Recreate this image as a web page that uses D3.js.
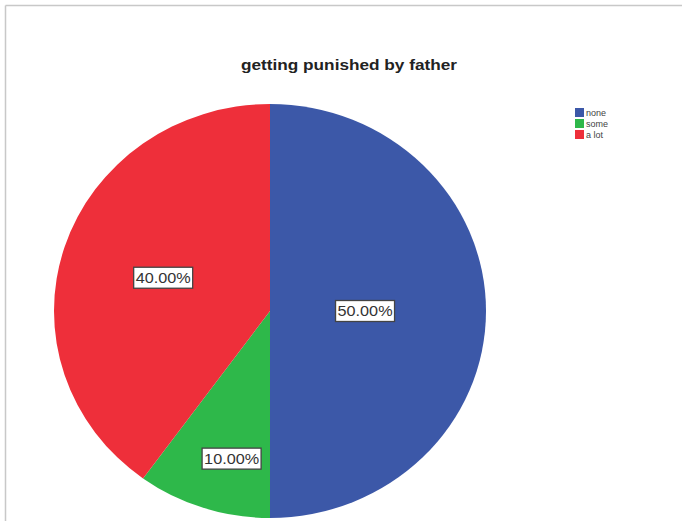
<!DOCTYPE html>
<html>
<head>
<meta charset="utf-8">
<script src="https://cdn.jsdelivr.net/npm/d3@7"></script>
<style>
  html, body { margin: 0; padding: 0; background: #fff; }
  svg { display: block; }
</style>
</head>
<body>
<svg id="chart" width="682" height="521"></svg>
<script>
// Responses: how often the respondent got punished by father
const categories = ["none", "some", "a lot"];
const percents = [50, 10, 40];
const colors = ["#3c58a8", "#2eb84a", "#ee2f3a"];
const title = "getting punished by father";

const svg = d3.select("#chart");
const W = 682, H = 521;

// frame lines (top and left)
svg.append("line").attr("x1", 5.5).attr("y1", 5.5).attr("x2", W).attr("y2", 5.5)
  .attr("stroke", "#c8c8c8").attr("stroke-width", 1.5);
svg.append("line").attr("x1", 5.5).attr("y1", 5.5).attr("x2", 5.5).attr("y2", H)
  .attr("stroke", "#c8c8c8").attr("stroke-width", 1.5);

// title
svg.append("text")
  .attr("x", 349).attr("y", 70)
  .attr("text-anchor", "middle")
  .attr("font-family", "Liberation Sans, Arial, sans-serif")
  .attr("font-weight", "bold")
  .attr("font-size", 15)
  .attr("fill", "#222")
  .attr("textLength", 216)
  .attr("lengthAdjust", "spacingAndGlyphs")
  .text(title);

// pie: slightly wider than tall
const cx = 270, cy = 311, rx = 216, ry = 207;
const R = ry;
const sx = rx / ry;

const pie = d3.pie().value(d => d.value).sort(null);
const data = categories.map((c, i) => ({ name: c, value: percents[i], color: colors[i] }));
const arcs = pie(data);
const arc = d3.arc().innerRadius(0).outerRadius(R);

const g = svg.append("g").attr("transform", `translate(${cx},${cy})`);
const pieG = g.append("g").attr("transform", `scale(${sx},1)`);

pieG.selectAll("path")
  .data(arcs)
  .join("path")
  .attr("d", arc)
  .attr("fill", d => d.data.color);

// label placement: fraction of radius and angular nudge (degrees) per slice label
const labelRadius = [0.44, 0.735, 0.52];
const labelNudge = [0, -4, 0];

const fmt = d => d3.format(".2f")(d) + "%";
const labels = g.selectAll("g.lbl")
  .data(arcs)
  .join("g")
  .attr("class", "lbl")
  .attr("transform", (d, i) => {
    const a = (d.startAngle + d.endAngle) / 2 + labelNudge[i] * Math.PI / 180;
    const r = R * labelRadius[i];
    const x = Math.sin(a) * r * sx;
    const y = -Math.cos(a) * r;
    return `translate(${x},${y})`;
  });

labels.append("rect")
  .attr("x", -29.5).attr("y", -10.5)
  .attr("width", 59).attr("height", 21)
  .attr("fill", "#fff")
  .attr("stroke", "#444")
  .attr("stroke-width", 1.3);

labels.append("text")
  .attr("text-anchor", "middle")
  .attr("dy", "0.36em")
  .attr("font-family", "Liberation Sans Narrow, Liberation Sans, Arial, sans-serif")
  .attr("font-size", 15)
  .attr("fill", "#333")
  .attr("textLength", 55)
  .attr("lengthAdjust", "spacingAndGlyphs")
  .text(d => fmt(d.data.value));

// legend
const legend = svg.append("g").attr("transform", "translate(575,108)");
const items = legend.selectAll("g")
  .data(data)
  .join("g")
  .attr("transform", (d, i) => `translate(0,${i * 11})`);
items.append("rect")
  .attr("width", 9).attr("height", 9)
  .attr("fill", d => d.color);
items.append("text")
  .attr("x", 11).attr("y", 7.5)
  .attr("font-family", "Liberation Sans, Arial, sans-serif")
  .attr("font-size", 9)
  .attr("fill", "#444")
  .text(d => d.name);
</script>
</body>
</html>
